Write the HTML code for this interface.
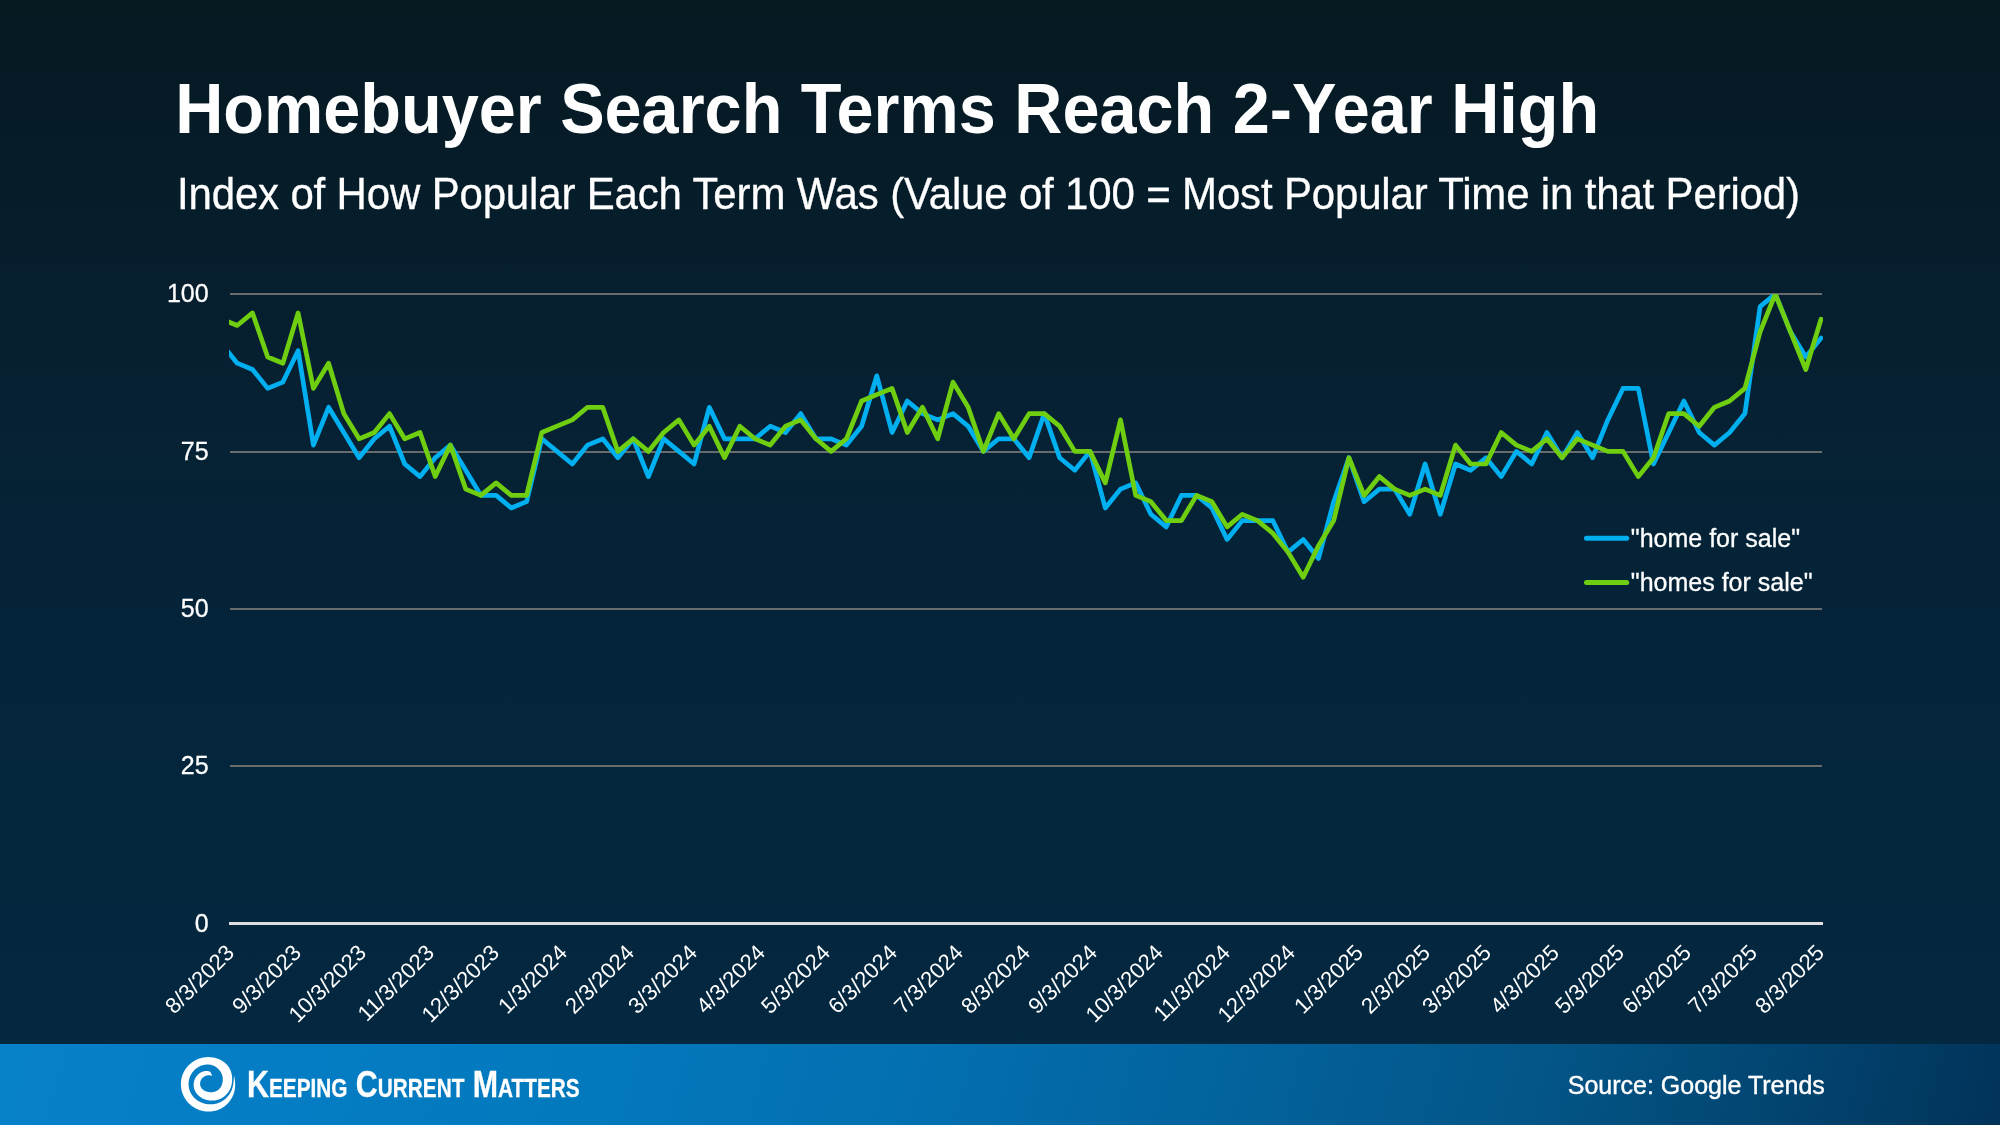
<!DOCTYPE html>
<html><head><meta charset="utf-8"><title>Homebuyer Search Terms Reach 2-Year High</title>
<style>
html,body{margin:0;padding:0;}
body{width:2000px;height:1125px;overflow:hidden;position:relative;font-family:"Liberation Sans",sans-serif;color:#fff;
background:linear-gradient(180deg,#051921 0px,#061d2b 220px,#062133 400px,#04253b 700px,#042840 1044px);}
.title{position:absolute;left:175.2px;top:70px;font-size:66.62px;font-weight:bold;line-height:80px;white-space:nowrap;transform-origin:0 63.1px;transform:scaleY(1.05);}
.sub{position:absolute;left:177px;top:168.5px;font-size:42px;line-height:52px;white-space:nowrap;letter-spacing:-0.167px;transform-origin:0 40.6px;transform:scaleY(1.035);-webkit-text-stroke:0.3px #fff;}
svg.chart{position:absolute;left:0;top:0;}
.yl{position:absolute;-webkit-text-stroke:0.3px #fff;right:1791.4px;font-size:25px;line-height:30px;text-align:right;white-space:nowrap;}
.xl{position:absolute;top:0;font-size:22.2px;line-height:30px;white-space:nowrap;transform-origin:100% 50%;transform:translate(-100%,0) translate(-0.5px,934px) rotate(-45deg);}
.leg{position:absolute;left:1630.8px;-webkit-text-stroke:0.3px #fff;font-size:25px;line-height:30px;white-space:nowrap;}
.footer{position:absolute;left:0;top:1044px;width:2000px;height:81px;background:linear-gradient(105deg,#0882cb 0%,#0780c9 6%,#047abe 29%,#0471b2 45%,#04649e 61%,#045687 77%,#034672 88.5%,#03345a 100%);}
.kcm{position:absolute;-webkit-text-stroke:0.3px #fff;left:247px;top:1064.9px;font-size:37px;line-height:40px;font-weight:bold;white-space:nowrap;transform-origin:0 0;transform:scaleX(0.821);}
.kcm span{font-size:25.3px;}
.src{position:absolute;-webkit-text-stroke:0.4px #fff;right:175.2px;top:1070px;font-size:25px;line-height:30px;white-space:nowrap;}
</style></head><body>
<div id="txt" style="position:absolute;left:0;top:0;width:2000px;height:1125px;opacity:0.999;will-change:opacity">
<div class="title">Homebuyer Search Terms Reach 2-Year High</div>
<div class="sub">Index of How Popular Each Term Was (Value of 100 = Most Popular Time in that Period)</div>
<svg class="chart" width="2000" height="1044" viewBox="0 0 2000 1044">
<defs><clipPath id="cp"><rect x="229" y="294" width="1594" height="640"/></clipPath></defs>
<rect x="230" y="765" width="1592" height="2" fill="#696d6d"/><rect x="230" y="608" width="1592" height="2" fill="#696d6d"/><rect x="230" y="451" width="1592" height="2" fill="#696d6d"/><rect x="230" y="293" width="1592" height="2" fill="#696d6d"/>
<rect x="229" y="922" width="1594" height="3" fill="#dfdfe3"/>
<g clip-path="url(#cp)" fill="none" stroke-width="4.7" stroke-linejoin="round" stroke-linecap="round">
<path d="M222.0 344.4 L237.2 363.2 L252.5 369.5 L267.7 388.4 L282.9 382.1 L298.1 350.7 L313.4 445.1 L328.6 407.3 L343.8 432.5 L359.1 457.7 L374.3 438.8 L389.5 426.2 L404.7 464.0 L420.0 476.6 L435.2 457.7 L450.4 445.1 L465.7 470.3 L480.9 495.4 L496.1 495.4 L511.3 508.0 L526.6 501.7 L541.8 438.8 L557.0 451.4 L572.3 464.0 L587.5 445.1 L602.7 438.8 L617.9 457.7 L633.2 438.8 L648.4 476.6 L663.6 438.8 L678.9 451.4 L694.1 464.0 L709.3 407.3 L724.5 438.8 L739.8 438.8 L755.0 438.8 L770.2 426.2 L785.5 432.5 L800.7 413.6 L815.9 438.8 L831.1 438.8 L846.4 445.1 L861.6 426.2 L876.8 375.8 L892.1 432.5 L907.3 401.0 L922.5 413.6 L937.7 419.9 L953.0 413.6 L968.2 426.2 L983.4 451.4 L998.7 438.8 L1013.9 438.8 L1029.1 457.7 L1044.3 413.6 L1059.6 457.7 L1074.8 470.3 L1090.0 451.4 L1105.3 508.0 L1120.5 489.1 L1135.7 482.9 L1150.9 514.3 L1166.2 526.9 L1181.4 495.4 L1196.6 495.4 L1211.9 508.0 L1227.1 539.5 L1242.3 520.6 L1257.5 520.6 L1272.8 520.6 L1288.0 552.1 L1303.2 539.5 L1318.5 558.4 L1333.7 501.7 L1348.9 457.7 L1364.1 501.7 L1379.4 489.1 L1394.6 489.1 L1409.8 514.3 L1425.1 464.0 L1440.3 514.3 L1455.5 464.0 L1470.7 470.3 L1486.0 457.7 L1501.2 476.6 L1516.4 451.4 L1531.7 464.0 L1546.9 432.5 L1562.1 457.7 L1577.3 432.5 L1592.6 457.7 L1607.8 419.9 L1623.0 388.4 L1638.3 388.4 L1653.5 464.0 L1668.7 432.5 L1683.9 401.0 L1699.2 432.5 L1714.4 445.1 L1729.6 432.5 L1744.9 413.6 L1760.1 306.6 L1775.3 294.0 L1790.5 331.8 L1805.8 357.0 L1821.0 338.1" stroke="#00b0f0"/>
<path d="M222.0 319.2 L237.2 325.5 L252.5 312.9 L267.7 357.0 L282.9 363.2 L298.1 312.9 L313.4 388.4 L328.6 363.2 L343.8 413.6 L359.1 438.8 L374.3 432.5 L389.5 413.6 L404.7 438.8 L420.0 432.5 L435.2 476.6 L450.4 445.1 L465.7 489.1 L480.9 495.4 L496.1 482.9 L511.3 495.4 L526.6 495.4 L541.8 432.5 L557.0 426.2 L572.3 419.9 L587.5 407.3 L602.7 407.3 L617.9 451.4 L633.2 438.8 L648.4 451.4 L663.6 432.5 L678.9 419.9 L694.1 445.1 L709.3 426.2 L724.5 457.7 L739.8 426.2 L755.0 438.8 L770.2 445.1 L785.5 426.2 L800.7 419.9 L815.9 438.8 L831.1 451.4 L846.4 438.8 L861.6 401.0 L876.8 394.7 L892.1 388.4 L907.3 432.5 L922.5 407.3 L937.7 438.8 L953.0 382.1 L968.2 407.3 L983.4 451.4 L998.7 413.6 L1013.9 438.8 L1029.1 413.6 L1044.3 413.6 L1059.6 426.2 L1074.8 451.4 L1090.0 451.4 L1105.3 482.9 L1120.5 419.9 L1135.7 495.4 L1150.9 501.7 L1166.2 520.6 L1181.4 520.6 L1196.6 495.4 L1211.9 501.7 L1227.1 526.9 L1242.3 514.3 L1257.5 520.6 L1272.8 533.2 L1288.0 552.1 L1303.2 577.3 L1318.5 545.8 L1333.7 520.6 L1348.9 457.7 L1364.1 495.4 L1379.4 476.6 L1394.6 489.1 L1409.8 495.4 L1425.1 489.1 L1440.3 495.4 L1455.5 445.1 L1470.7 464.0 L1486.0 464.0 L1501.2 432.5 L1516.4 445.1 L1531.7 451.4 L1546.9 438.8 L1562.1 457.7 L1577.3 438.8 L1592.6 445.1 L1607.8 451.4 L1623.0 451.4 L1638.3 476.6 L1653.5 457.7 L1668.7 413.6 L1683.9 413.6 L1699.2 426.2 L1714.4 407.3 L1729.6 401.0 L1744.9 388.4 L1760.1 331.8 L1775.3 294.0 L1790.5 331.8 L1805.8 369.5 L1821.0 319.2" stroke="#70cf11"/>
</g>
<line x1="1586.5" x2="1626.7" y1="538.3" y2="538.3" stroke="#00b0f0" stroke-width="5" stroke-linecap="round"/>
<line x1="1586.5" x2="1626.7" y1="582.5" y2="582.5" stroke="#70cf11" stroke-width="5" stroke-linecap="round"/>
</svg>
<div class="yl" style="top:907.5px">0</div><div class="yl" style="top:750px">25</div><div class="yl" style="top:593px">50</div><div class="yl" style="top:436px">75</div><div class="yl" style="top:278px">100</div>
<div class="xl" style="left:230.7px">8/3/2023</div><div class="xl" style="left:298.1px">9/3/2023</div><div class="xl" style="left:363.4px">10/3/2023</div><div class="xl" style="left:430.8px">11/3/2023</div><div class="xl" style="left:496.1px">12/3/2023</div><div class="xl" style="left:563.6px">1/3/2024</div><div class="xl" style="left:631.0px">2/3/2024</div><div class="xl" style="left:694.1px">3/3/2024</div><div class="xl" style="left:761.5px">4/3/2024</div><div class="xl" style="left:826.8px">5/3/2024</div><div class="xl" style="left:894.2px">6/3/2024</div><div class="xl" style="left:959.5px">7/3/2024</div><div class="xl" style="left:1026.9px">8/3/2024</div><div class="xl" style="left:1094.4px">9/3/2024</div><div class="xl" style="left:1159.6px">10/3/2024</div><div class="xl" style="left:1227.1px">11/3/2024</div><div class="xl" style="left:1292.4px">12/3/2024</div><div class="xl" style="left:1359.8px">1/3/2025</div><div class="xl" style="left:1427.2px">2/3/2025</div><div class="xl" style="left:1488.1px">3/3/2025</div><div class="xl" style="left:1555.6px">4/3/2025</div><div class="xl" style="left:1620.9px">5/3/2025</div><div class="xl" style="left:1688.3px">6/3/2025</div><div class="xl" style="left:1753.6px">7/3/2025</div><div class="xl" style="left:1821.0px">8/3/2025</div>
<div class="leg" style="top:523px">"home for sale"</div>
<div class="leg" style="top:567px">"homes for sale"</div>
<div class="footer"></div>
<svg style="position:absolute;left:0;top:1044px" width="400" height="81" viewBox="0 1044 400 81"><path d="M211.89 1076.15 L211.76 1075.52 L211.60 1074.83 L211.40 1074.11 L211.15 1073.41 L210.84 1072.77 L210.49 1072.22 L210.10 1071.80 L209.68 1071.55 L209.25 1071.41 L208.80 1071.29 L208.35 1071.19 L207.89 1071.11 L207.42 1071.05 L206.95 1071.01 L206.48 1070.99 L206.00 1071.00 L205.52 1071.03 L205.03 1071.07 L204.55 1071.14 L204.07 1071.23 L203.59 1071.35 L203.11 1071.48 L202.63 1071.63 L202.16 1071.81 L201.70 1072.00 L201.24 1072.22 L200.79 1072.46 L200.34 1072.71 L199.91 1072.98 L199.48 1073.28 L199.06 1073.59 L198.66 1073.92 L198.27 1074.26 L197.89 1074.63 L197.52 1075.00 L197.16 1075.40 L196.83 1075.81 L196.50 1076.23 L196.19 1076.67 L195.90 1077.12 L195.62 1077.58 L195.36 1078.05 L195.11 1078.54 L194.89 1079.03 L194.68 1079.54 L194.49 1080.05 L194.32 1080.57 L194.16 1081.10 L194.03 1081.64 L193.91 1082.18 L193.82 1082.73 L193.74 1083.28 L193.68 1083.84 L193.64 1084.40 L193.63 1084.96 L193.65 1085.53 L193.68 1086.09 L193.75 1086.65 L193.83 1087.21 L193.94 1087.76 L194.07 1088.32 L194.23 1088.86 L194.40 1089.40 L194.60 1089.93 L194.82 1090.46 L195.06 1090.97 L195.32 1091.48 L195.60 1091.97 L195.89 1092.46 L196.21 1092.93 L196.54 1093.39 L196.88 1093.84 L197.25 1094.27 L197.62 1094.70 L198.02 1095.10 L198.42 1095.50 L198.84 1095.88 L199.27 1096.25 L199.71 1096.60 L200.17 1096.93 L200.63 1097.26 L201.10 1097.56 L201.59 1097.86 L202.08 1098.13 L202.58 1098.40 L203.09 1098.64 L203.60 1098.88 L204.13 1099.10 L204.66 1099.30 L205.19 1099.49 L205.74 1099.66 L206.28 1099.82 L206.84 1099.97 L207.40 1100.10 L207.96 1100.21 L208.53 1100.32 L209.10 1100.41 L209.68 1100.48 L210.26 1100.54 L210.85 1100.58 L211.44 1100.61 L212.04 1100.62 L212.64 1100.61 L213.24 1100.58 L213.84 1100.54 L214.45 1100.47 L215.06 1100.39 L215.67 1100.29 L216.28 1100.17 L216.89 1100.03 L217.50 1099.86 L218.10 1099.68 L218.71 1099.48 L219.31 1099.25 L219.91 1099.01 L220.51 1098.74 L221.10 1098.45 L221.68 1098.14 L222.26 1097.81 L222.83 1097.46 L223.39 1097.08 L223.94 1096.68 L224.48 1096.26 L225.02 1095.82 L225.53 1095.36 L226.04 1094.87 L226.53 1094.37 L227.01 1093.84 L227.47 1093.30 L227.91 1092.73 L228.34 1092.15 L228.75 1091.54 L229.14 1090.92 L229.51 1090.28 L229.85 1089.62 L230.18 1088.95 L230.48 1088.26 L230.76 1087.56 L231.01 1086.84 L231.24 1086.11 L231.44 1085.36 L231.61 1084.61 L231.76 1083.84 L231.88 1083.06 L231.99 1082.28 L232.07 1081.49 L232.13 1080.68 L232.17 1079.87 L232.18 1079.06 L232.17 1078.23 L232.13 1077.40 L232.06 1076.57 L231.96 1075.73 L231.82 1074.89 L231.66 1074.06 L231.46 1073.22 L231.22 1072.38 L230.96 1071.56 L230.65 1070.74 L230.31 1069.92 L229.93 1069.13 L229.52 1068.34 L229.07 1067.57 L228.58 1066.82 L228.06 1066.09 L227.50 1065.39 L226.91 1064.71 L226.28 1064.05 L225.63 1063.43 L224.95 1062.83 L224.24 1062.25 L223.51 1061.71 L222.75 1061.20 L221.98 1060.71 L221.18 1060.26 L220.37 1059.84 L219.53 1059.45 L218.69 1059.09 L217.83 1058.76 L216.96 1058.46 L216.07 1058.19 L215.18 1057.95 L214.28 1057.75 L213.37 1057.57 L212.46 1057.42 L211.54 1057.30 L210.61 1057.21 L209.68 1057.15 L208.75 1057.12 L207.81 1057.12 L206.87 1057.15 L205.94 1057.21 L205.00 1057.31 L204.07 1057.43 L203.14 1057.59 L202.21 1057.78 L201.29 1058.01 L200.37 1058.26 L199.46 1058.55 L198.56 1058.87 L197.67 1059.22 L196.79 1059.60 L195.92 1060.01 L195.07 1060.46 L194.23 1060.93 L193.40 1061.44 L192.60 1061.97 L191.81 1062.54 L191.04 1063.13 L190.29 1063.76 L189.56 1064.41 L188.85 1065.08 L188.17 1065.79 L187.51 1066.52 L186.88 1067.27 L186.27 1068.05 L185.69 1068.85 L185.14 1069.67 L184.62 1070.52 L184.13 1071.38 L183.67 1072.26 L183.25 1073.16 L182.85 1074.08 L182.50 1075.01 L182.17 1075.95 L181.88 1076.91 L181.63 1077.88 L181.41 1078.86 L181.23 1079.84 L181.09 1080.83 L180.98 1081.83 L180.91 1082.84 L180.88 1083.84 L180.89 1084.85 L180.93 1085.85 L181.02 1086.85 L181.14 1087.85 L181.29 1088.85 L181.49 1089.83 L181.72 1090.81 L181.98 1091.78 L182.28 1092.74 L182.62 1093.69 L182.99 1094.62 L183.40 1095.54 L183.84 1096.44 L184.31 1097.33 L184.81 1098.20 L185.34 1099.05 L185.91 1099.87 L186.50 1100.68 L187.12 1101.46 L187.77 1102.22 L188.45 1102.96 L189.15 1103.67 L189.87 1104.35 L190.62 1105.01 L191.39 1105.63 L192.18 1106.23 L193.00 1106.80 L193.83 1107.34 L194.68 1107.85 L195.54 1108.33 L196.42 1108.78 L197.32 1109.19 L198.22 1109.57 L199.14 1109.92 L200.07 1110.24 L201.01 1110.52 L201.96 1110.77 L202.91 1110.99 L203.87 1111.17 L204.84 1111.32 L205.80 1111.43 L206.77 1111.51 L207.74 1111.56 L208.71 1111.57 L209.68 1111.55 L210.65 1111.50 L211.61 1111.41 L212.56 1111.28 L213.51 1111.12 L214.46 1110.93 L215.39 1110.70 L216.31 1110.44 L217.22 1110.15 L218.12 1109.82 L219.01 1109.47 L219.88 1109.08 L220.73 1108.66 L221.57 1108.21 L222.39 1107.73 L223.18 1107.23 L223.96 1106.70 L224.72 1106.14 L225.46 1105.56 L226.17 1104.95 L226.86 1104.32 L227.53 1103.67 L228.17 1102.99 L228.79 1102.29 L229.38 1101.58 L229.94 1100.84 L230.48 1100.09 L230.99 1099.32 L231.47 1098.54 L231.93 1097.74 L232.35 1096.93 L232.75 1096.10 L233.11 1095.27 L233.45 1094.42 L233.76 1093.57 L234.03 1092.70 L234.28 1091.83 L234.50 1090.96 L234.68 1090.07 L234.84 1089.19 L234.97 1088.30 L235.06 1087.41 L235.13 1086.51 L235.17 1085.62 L235.17 1084.73 L235.15 1083.84 L235.11 1082.95 L235.06 1082.07 L234.99 1081.18 L234.90 1080.30 L234.79 1079.41 L234.66 1078.53 L234.49 1077.65 L234.30 1076.78 L234.06 1075.92 L233.80 1075.06 L233.80 1075.06 L233.88 1075.98 L233.91 1076.89 L233.90 1077.80 L233.85 1078.70 L233.77 1079.59 L233.67 1080.47 L233.56 1081.33 L233.45 1082.18 L233.33 1083.01 L233.23 1083.84 L233.12 1084.66 L232.99 1085.47 L232.82 1086.27 L232.63 1087.07 L232.42 1087.85 L232.17 1088.62 L231.91 1089.38 L231.61 1090.13 L231.30 1090.86 L230.96 1091.58 L230.59 1092.29 L230.21 1092.98 L229.80 1093.65 L229.37 1094.31 L228.92 1094.95 L228.45 1095.57 L227.96 1096.17 L227.46 1096.76 L226.94 1097.32 L226.40 1097.87 L225.84 1098.39 L225.27 1098.90 L224.69 1099.38 L224.09 1099.84 L223.48 1100.28 L222.85 1100.70 L222.22 1101.10 L221.57 1101.47 L220.92 1101.82 L220.25 1102.15 L219.58 1102.46 L218.90 1102.74 L218.21 1103.00 L217.52 1103.24 L216.82 1103.45 L216.11 1103.64 L215.41 1103.81 L214.69 1103.95 L213.98 1104.07 L213.27 1104.17 L212.55 1104.25 L211.83 1104.30 L211.11 1104.33 L210.40 1104.34 L209.68 1104.32 L208.97 1104.28 L208.25 1104.23 L207.55 1104.15 L206.84 1104.05 L206.14 1103.93 L205.44 1103.79 L204.74 1103.63 L204.06 1103.45 L203.37 1103.25 L202.70 1103.03 L202.02 1102.79 L201.36 1102.52 L200.71 1102.24 L200.06 1101.93 L199.42 1101.60 L198.80 1101.26 L198.18 1100.89 L197.58 1100.50 L196.98 1100.09 L196.41 1099.66 L195.84 1099.21 L195.29 1098.74 L194.76 1098.25 L194.24 1097.74 L193.74 1097.21 L193.26 1096.67 L192.80 1096.11 L192.35 1095.53 L191.93 1094.93 L191.53 1094.32 L191.15 1093.69 L190.79 1093.05 L190.46 1092.40 L190.16 1091.73 L189.87 1091.05 L189.62 1090.36 L189.39 1089.66 L189.18 1088.95 L189.01 1088.23 L188.86 1087.51 L188.74 1086.78 L188.65 1086.05 L188.59 1085.31 L188.56 1084.58 L188.56 1083.84 L188.59 1083.10 L188.64 1082.37 L188.72 1081.64 L188.83 1080.91 L188.96 1080.19 L189.12 1079.47 L189.31 1078.76 L189.52 1078.06 L189.76 1077.37 L190.02 1076.68 L190.30 1076.01 L190.61 1075.35 L190.95 1074.70 L191.30 1074.07 L191.68 1073.45 L192.08 1072.85 L192.51 1072.26 L192.95 1071.68 L193.41 1071.13 L193.89 1070.59 L194.40 1070.08 L194.91 1069.58 L195.45 1069.10 L196.00 1068.65 L196.57 1068.21 L197.15 1067.80 L197.74 1067.41 L198.35 1067.05 L198.97 1066.70 L199.60 1066.38 L200.24 1066.09 L200.89 1065.82 L201.55 1065.58 L202.21 1065.36 L202.88 1065.16 L203.56 1064.99 L204.24 1064.85 L204.92 1064.73 L205.60 1064.64 L206.28 1064.58 L206.97 1064.54 L207.65 1064.53 L208.33 1064.54 L209.01 1064.58 L209.68 1064.64 L210.35 1064.73 L211.01 1064.86 L211.66 1065.02 L212.30 1065.21 L212.93 1065.43 L213.54 1065.68 L214.14 1065.95 L214.72 1066.25 L215.29 1066.58 L215.84 1066.93 L216.37 1067.29 L216.87 1067.68 L217.36 1068.09 L217.83 1068.51 L218.28 1068.94 L218.71 1069.39 L219.11 1069.85 L219.50 1070.32 L219.87 1070.80 L220.21 1071.29 L220.54 1071.78 L220.85 1072.28 L221.14 1072.78 L221.40 1073.29 L221.64 1073.80 L221.86 1074.33 L222.05 1074.86 L222.21 1075.39 L222.36 1075.92 L222.48 1076.45 L222.58 1076.98 L222.66 1077.51 L222.71 1078.04 L222.75 1078.56 L222.77 1079.08 L222.77 1079.59 L222.76 1080.09 L222.72 1080.59 L222.68 1081.08 L222.62 1081.56 L222.55 1082.03 L222.47 1082.50 L222.37 1082.95 L222.27 1083.40 L222.16 1083.84 L222.04 1084.27 L221.90 1084.69 L221.75 1085.11 L221.58 1085.51 L221.40 1085.91 L221.21 1086.29 L221.00 1086.66 L220.79 1087.02 L220.56 1087.37 L220.32 1087.71 L220.07 1088.04 L219.81 1088.35 L219.55 1088.65 L219.27 1088.94 L218.99 1089.21 L218.70 1089.48 L218.41 1089.73 L218.11 1089.96 L217.80 1090.19 L217.49 1090.40 L217.18 1090.60 L216.87 1090.78 L216.55 1090.95 L216.23 1091.11 L215.91 1091.26 L215.59 1091.40 L215.26 1091.53 L214.94 1091.64 L214.62 1091.74 L214.30 1091.84 L213.98 1091.92 L213.65 1091.99 L213.34 1092.05 L213.02 1092.10 L212.70 1092.15 L212.39 1092.18 L212.08 1092.21 L211.77 1092.23 L211.47 1092.24 L211.16 1092.24 L210.86 1092.24 L210.56 1092.23 L210.27 1092.21 L209.97 1092.19 L209.68 1092.16 L209.39 1092.13 L209.10 1092.09 L208.82 1092.05 L208.53 1092.00 L208.25 1091.95 L207.97 1091.90 L207.69 1091.84 L207.41 1091.77 L207.13 1091.70 L206.85 1091.62 L206.57 1091.54 L206.29 1091.45 L206.01 1091.36 L205.74 1091.25 L205.46 1091.14 L205.19 1091.02 L204.92 1090.90 L204.65 1090.76 L204.39 1090.62 L204.12 1090.46 L203.86 1090.30 L203.61 1090.13 L203.35 1089.95 L203.11 1089.76 L202.87 1089.56 L202.63 1089.35 L202.40 1089.13 L202.18 1088.90 L201.96 1088.66 L201.76 1088.41 L201.56 1088.16 L201.37 1087.89 L201.20 1087.62 L201.03 1087.33 L200.87 1087.04 L200.73 1086.75 L200.60 1086.44 L200.48 1086.13 L200.38 1085.82 L200.29 1085.50 L200.22 1085.17 L200.16 1084.84 L200.12 1084.51 L200.09 1084.17 L200.08 1083.84 L200.08 1083.50 L200.10 1083.17 L200.14 1082.84 L200.18 1082.50 L200.24 1082.18 L200.31 1081.85 L200.40 1081.53 L200.49 1081.21 L200.60 1080.89 L200.73 1080.58 L200.86 1080.28 L201.01 1079.98 L201.16 1079.69 L201.33 1079.40 L201.51 1079.12 L201.70 1078.85 L201.90 1078.59 L202.11 1078.34 L202.32 1078.09 L202.55 1077.86 L202.78 1077.63 L203.02 1077.41 L203.27 1077.21 L203.53 1077.01 L203.79 1076.82 L204.06 1076.64 L204.33 1076.48 L204.61 1076.32 L204.89 1076.18 L205.18 1076.04 L205.47 1075.92 L205.76 1075.81 L206.06 1075.71 L206.36 1075.62 L206.66 1075.54 L206.96 1075.47 L207.26 1075.41 L207.57 1075.36 L207.87 1075.33 L208.17 1075.30 L208.48 1075.29 L208.78 1075.28 L209.08 1075.29 L209.38 1075.30 L209.68 1075.33 L209.98 1075.37 L210.27 1075.44 L210.55 1075.53 L210.83 1075.63 L211.11 1075.75 L211.37 1075.88 L211.63 1076.01 L211.89 1076.15Z" fill="#fff"/></svg>
<div class="kcm">K<span>EEPING</span> C<span>URRENT</span> M<span>ATTERS</span></div>
<div class="src">Source: Google Trends</div>
</div>
</body></html>
